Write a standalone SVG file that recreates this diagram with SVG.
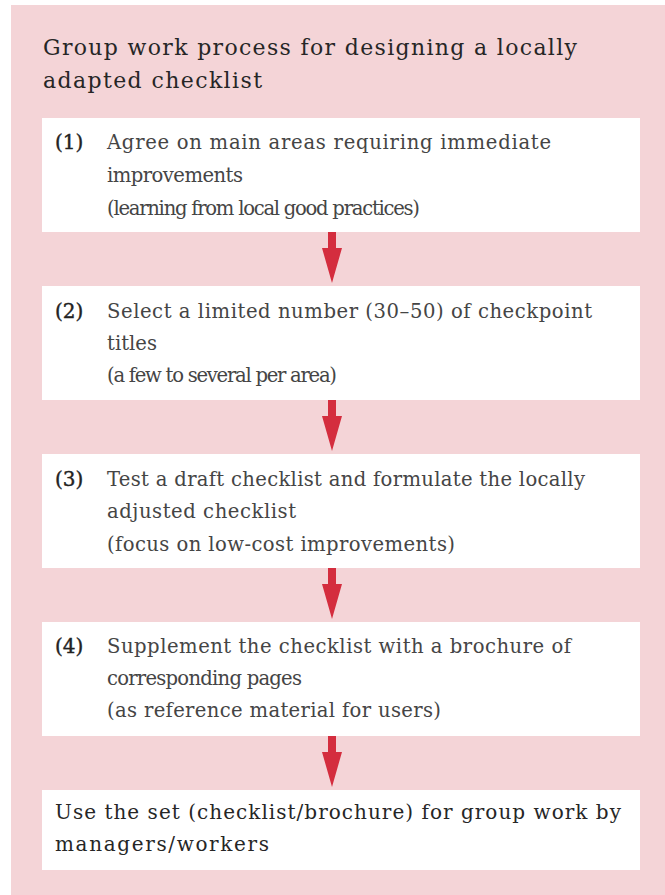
<svg xmlns="http://www.w3.org/2000/svg" width="665" height="895" viewBox="0 0 665 895">
<style>
.bg{fill:#f4d4d7}
.box{fill:#ffffff}
.title{font-family:"DejaVu Serif","Liberation Serif",serif;font-size:22px;fill:#262626}
.num{font-family:"DejaVu Serif","Liberation Serif",serif;font-size:20px;fill:#222222;stroke:#222222;stroke-width:0.4}
.body{font-family:"DejaVu Serif","Liberation Serif",serif;font-size:19.6px;fill:#454545}
.final{font-family:"DejaVu Serif","Liberation Serif",serif;font-size:20px;fill:#262626}
.arrow{fill:#d42d3e}
</style>
<defs>
<path id="arr" d="M-4,0 H4 V16 H10 L0,51 L-10,16 H-4 Z"/>
</defs>
<rect class="bg" x="11" y="5" width="654" height="890"/>
<g id="title">
<text class="title" x="43" y="55" textLength="534" lengthAdjust="spacing">Group work process for designing a locally</text>
<text class="title" x="43" y="88" textLength="219" lengthAdjust="spacing">adapted checklist</text>
</g>
<g id="connectors">
<use href="#arr" class="arrow" x="332" y="232"/>
<use href="#arr" class="arrow" x="332" y="400"/>
<use href="#arr" class="arrow" x="332" y="568"/>
<use href="#arr" class="arrow" x="332" y="736"/>
</g>
<g id="step1">
<rect class="box" x="42" y="118" width="598" height="114"/>
<text class="num" x="55" y="149">(1)</text>
<text class="body" x="107" y="149" textLength="444" lengthAdjust="spacing">Agree on main areas requiring immediate</text>
<text class="body" x="107" y="182" textLength="136" lengthAdjust="spacing">improvements</text>
<text class="body" x="107" y="215" textLength="313" lengthAdjust="spacing">(learning from local good practices)</text>
</g>
<g id="step2">
<rect class="box" x="42" y="286" width="598" height="114"/>
<text class="num" x="55" y="318">(2)</text>
<text class="body" x="107" y="318" textLength="485" lengthAdjust="spacing">Select a limited number (30–50) of checkpoint</text>
<text class="body" x="107" y="350" textLength="50" lengthAdjust="spacing">titles</text>
<text class="body" x="107" y="382" textLength="230" lengthAdjust="spacing">(a few to several per area)</text>
</g>
<g id="step3">
<rect class="box" x="42" y="454" width="598" height="114"/>
<text class="num" x="55" y="486">(3)</text>
<text class="body" x="107" y="486" textLength="478" lengthAdjust="spacing">Test a draft checklist and formulate the locally</text>
<text class="body" x="107" y="518" textLength="189" lengthAdjust="spacing">adjusted checklist</text>
<text class="body" x="107" y="551" textLength="348" lengthAdjust="spacing">(focus on low-cost improvements)</text>
</g>
<g id="step4">
<rect class="box" x="42" y="622" width="598" height="114"/>
<text class="num" x="55" y="653">(4)</text>
<text class="body" x="107" y="653" textLength="464" lengthAdjust="spacing">Supplement the checklist with a brochure of</text>
<text class="body" x="107" y="685" textLength="195" lengthAdjust="spacing">corresponding pages</text>
<text class="body" x="107" y="717" textLength="334" lengthAdjust="spacing">(as reference material for users)</text>
</g>
<g id="final">
<rect class="box" x="42" y="790" width="598" height="80"/>
<text class="final" x="55" y="819" textLength="566" lengthAdjust="spacing">Use the set (checklist/brochure) for group work by</text>
<text class="final" x="55" y="851" textLength="214" lengthAdjust="spacing">managers/workers</text>
</g>
</svg>
